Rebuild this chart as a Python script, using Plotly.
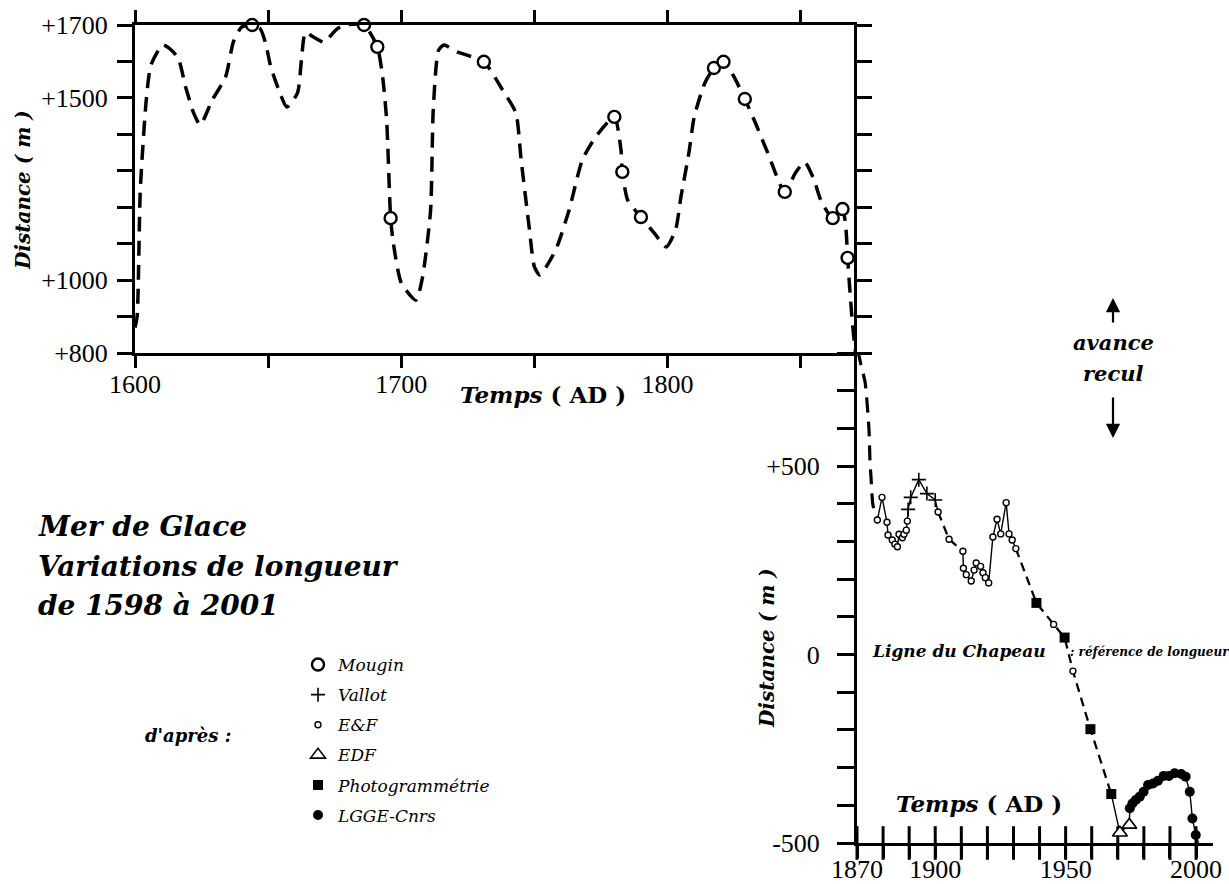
import plotly.graph_objects as go

W, H = 1229, 884

# ---------------- DATA ----------------
curve_years = [1600.0, 1600.8, 1602.0, 1604.3, 1606.0, 1610.5, 1616.0, 1619.0, 1622.0, 1624.5,
               1629.0, 1634.0, 1637.0, 1640.0, 1644.0, 1647.0, 1649.0, 1651.0, 1654.0, 1657.0,
               1661.0, 1662.5, 1664.0, 1667.0, 1671.0, 1673.0, 1676.0, 1679.0, 1686.0, 1691.0,
               1693.0, 1694.5, 1696.0, 1697.0, 1700.0, 1705.5, 1708.0, 1711.0, 1712.0, 1714.0,
               1716.0, 1721.0, 1731.0, 1738.0, 1743.0, 1745.0, 1748.0, 1750.0, 1752.0, 1758.0,
               1763.0, 1768.0, 1773.0, 1780.0, 1782.5, 1783.0, 1785.0, 1790.0, 1795.0, 1799.5,
               1803.0, 1805.0, 1808.0, 1810.0, 1814.0, 1817.4, 1821.0, 1825.0, 1829.0, 1833.0,
               1837.6, 1844.0, 1848.0, 1851.5, 1855.0, 1857.5, 1862.0, 1865.7, 1867.0, 1867.6,
               1869.2, 1870.6, 1871.8, 1873.1, 1874.6, 1875.0, 1875.4, 1876.1, 1877.8]
curve_values = [870, 900, 1250, 1500, 1590, 1645, 1612, 1530, 1459, 1426,
                1494, 1557, 1655, 1694, 1700, 1690, 1651, 1585, 1522, 1475,
                1513, 1604, 1680, 1667, 1653, 1667, 1690, 1700, 1700, 1640,
                1557, 1439, 1170, 1102, 992, 945, 1009, 1192, 1467, 1631,
                1645, 1626, 1599, 1522, 1459, 1330, 1146, 1036, 1014, 1083,
                1192, 1330, 1393, 1448, 1357, 1297, 1220, 1173, 1129, 1091,
                1138, 1228, 1349, 1448, 1541, 1582, 1599, 1557, 1497, 1431,
                1349, 1242, 1294, 1324, 1275, 1220, 1170, 1195, 1138, 1061,
                900, 800, 760, 723, 596, 508, 468, 397, 357]

mougin_years = [1644.0, 1686.0, 1691.0, 1696.0, 1731.0, 1780.0, 1783.0, 1790.0,
                1817.4, 1821.0, 1829.0, 1844.0, 1862.0, 1865.7, 1867.6]
mougin_values = [1700, 1700, 1640, 1170, 1599, 1448, 1297, 1173,
                 1582, 1599, 1497, 1242, 1170, 1195, 1061]

vallot_years = [1889.6, 1890.6, 1893.7, 1896.8, 1900.0]
vallot_values = [385, 417, 464, 427, 410]

ef_years = [1877.8, 1879.6, 1881.5, 1881.9, 1883.5, 1884.5, 1885.5, 1886.1, 1887.4, 1888.0,
            1888.9, 1889.3, 1901.1, 1905.3, 1910.6, 1910.8, 1911.9, 1913.8, 1914.9, 1915.7,
            1917.4, 1918.3, 1919.2, 1920.5, 1922.1, 1923.7, 1925.1, 1927.2, 1928.3, 1929.5,
            1930.9, 1945.4, 1952.8]
ef_values = [357, 417, 351, 317, 304, 293, 286, 319, 310, 319,
             330, 354, 378, 306, 274, 229, 212, 195, 224, 243,
             234, 217, 204, 190, 312, 359, 320, 403, 320, 304,
             281, 80, -44]

edf_years = [1970.8, 1974.4]
edf_values = [-473, -452]

photo_years = [1938.8, 1949.6, 1959.5, 1967.5]
photo_values = [137, 45, -198, -370]

lgge_years = [1974.6, 1975.6, 1976.9, 1978.4, 1979.9, 1981.6, 1983.5, 1985.4, 1987.6, 1989.6,
              1991.8, 1994.3, 1996.0, 1997.6, 1998.6, 1999.9, 2002.7]
lgge_values = [-408, -395, -386, -377, -364, -346, -342, -335, -322, -322,
               -315, -317, -324, -364, -435, -479, -536]

# tick labels
top_x_ticks = [1600, 1650, 1700, 1750, 1800, 1850]
top_x_labels = ["1600", "", "1700", "", "1800", ""]
top_y_ticks = [800, 900, 1000, 1100, 1200, 1300, 1400, 1500, 1600, 1700]
top_y_labels = ["+800", "", "+1000", "", "", "", "", "+1500", "", "+1700"]
top_right_ticks = [1000, 1500]
top_right_labels = ["+1000", "+1500"]
bot_x_ticks = [1870, 1880, 1890, 1900, 1910, 1920, 1930, 1940, 1950, 1960, 1970, 1980, 1990, 2000]
bot_x_labels = ["1870", "", "", "1900", "", "", "", "", "1950", "", "", "", "", "2000"]
bot_y_ticks = [-500, -400, -300, -200, -100, 0, 100, 200, 300, 400, 500, 600, 700, 800]
bot_y_labels = ["-500", "", "", "", "", "0", "", "", "", "", "+500", "", "", ""]

segments = [(1877.8, 1901.1, False), (1901.1, 1910.6, True), (1910.6, 1930.9, False),
            (1930.9, 1967.5, True), (1967.5, 2003.0, False)]

# ---------------- FIGURE ----------------
SCRIPT = "DejaVu Serif"
NUM = "Liberation Serif"
BOT_MIN, BOT_MAX = -500, 800

fig = go.Figure()

fig.add_trace(go.Scatter(x=curve_years, y=curve_values, mode="lines", xaxis="x", yaxis="y",
                         line=dict(color="black", width=3.5, dash="15px,9px", shape="spline", smoothing=0.6),
                         showlegend=False, hoverinfo="skip"))
k = curve_years.index(1867.6)
fig.add_trace(go.Scatter(x=curve_years[k:], y=curve_values[k:], mode="lines", xaxis="x2", yaxis="y2",
                         line=dict(color="black", width=3.2, dash="15px,9px", shape="spline", smoothing=0.6),
                         showlegend=False, hoverinfo="skip"))

all_pts = sorted(zip(ef_years + vallot_years + photo_years + edf_years + lgge_years,
                     ef_values + vallot_values + photo_values + edf_values + lgge_values),
                 key=lambda p: p[0])
for a, b, dashed in segments:
    sub = [p for p in all_pts if a <= p[0] <= b]
    fig.add_trace(go.Scatter(x=[p[0] for p in sub], y=[p[1] for p in sub], mode="lines",
                             xaxis="x2", yaxis="y2", showlegend=False, hoverinfo="skip",
                             line=dict(color="black", width=2.3 if dashed else 1.4,
                                       dash="9px,6px" if dashed else "solid")))

# crossing tick marks along the lower time axis (placed at the tick values, on the axis floor)
fig.add_trace(go.Scatter(x=bot_x_ticks, y=[BOT_MIN] * len(bot_x_ticks), mode="markers",
                         xaxis="x2", yaxis="y2", cliponaxis=False, showlegend=False,
                         hoverinfo="skip",
                         marker=dict(symbol="line-ns", size=24, color="black",
                                     line=dict(color="black", width=3))))

fig.add_trace(go.Scatter(x=mougin_years, y=mougin_values, mode="markers", name="Mougin",
                         xaxis="x", yaxis="y", cliponaxis=False, legendgroup="a",
                         marker=dict(symbol="circle", size=12, color="white",
                                     line=dict(color="black", width=2.4))))
fig.add_trace(go.Scatter(x=vallot_years, y=vallot_values, mode="markers", name="Vallot",
                         xaxis="x2", yaxis="y2", cliponaxis=False, legendgroup="b",
                         marker=dict(symbol="cross-thin", size=10, color="black",
                                     line=dict(color="black", width=1.6))))
fig.add_trace(go.Scatter(x=ef_years, y=ef_values, mode="markers", name="E&F",
                         xaxis="x2", yaxis="y2", cliponaxis=False, legendgroup="c",
                         marker=dict(symbol="circle", size=6, color="white",
                                     line=dict(color="black", width=1.4))))
fig.add_trace(go.Scatter(x=edf_years, y=edf_values, mode="markers", name="EDF",
                         xaxis="x2", yaxis="y2", cliponaxis=False, legendgroup="d",
                         marker=dict(symbol="triangle-up", size=13, color="white",
                                     line=dict(color="black", width=1.6))))
fig.add_trace(go.Scatter(x=photo_years, y=photo_values, mode="markers", name="Photogrammétrie",
                         xaxis="x2", yaxis="y2", cliponaxis=False, legendgroup="e",
                         marker=dict(symbol="square", size=10, color="black")))
fig.add_trace(go.Scatter(x=lgge_years, y=lgge_values, mode="markers", name="LGGE-Cnrs",
                         xaxis="x2", yaxis="y2", cliponaxis=False, legendgroup="f",
                         marker=dict(symbol="circle", size=10, color="black")))

common = dict(showgrid=False, zeroline=False, showline=True, linecolor="black", linewidth=3,
              tickcolor="black", tickwidth=3, automargin=False, layer="above traces",
              tickfont=dict(family=NUM, size=26, color="black"))

top_xdom = [135 / W, 854 / W]
top_ydom = [1 - 353 / H, 1 - 25 / H]
bot_xdom = [857 / W, 1213 / W]
bot_ydom = [1 - 843 / H, 1 - 353 / H]
bot_xmax = 1870 + (1213 - 857) / 2.608

fig.update_layout(
    width=W, height=H, margin=dict(l=0, r=0, t=0, b=0, autoexpand=False),
    paper_bgcolor="white", plot_bgcolor="rgba(0,0,0,0)",
    xaxis=dict(domain=top_xdom, range=[1600, 1870], anchor="y", ticks="outside", ticklen=12,
               mirror="ticks", tickvals=top_x_ticks, ticktext=top_x_labels,
               ticklabelstandoff=-6, **common),
    xaxis3=dict(overlaying="x", anchor="y", range=[1600, 1870], ticks="inside", ticklen=12,
                mirror="ticks", tickvals=top_x_ticks, showticklabels=False, **common),
    yaxis=dict(domain=top_ydom, range=[800, 1700], anchor="x", ticks="outside", ticklen=15,
               mirror="ticks", tickvals=top_y_ticks, ticktext=top_y_labels,
               ticklabelstandoff=4, **common),
    yaxis3=dict(overlaying="y", anchor="x", range=[800, 1700], ticks="inside", ticklen=17,
                mirror="ticks", tickvals=top_y_ticks, showticklabels=False, **common),
    yaxis4=dict(overlaying="y", anchor="x", side="right", range=[800, 1700], showgrid=False,
                zeroline=False, showline=False, ticks="", tickvals=top_right_ticks,
                ticktext=top_right_labels, ticklabelstandoff=20, automargin=False,
                tickfont=dict(family=NUM, size=26, color="black")),
    xaxis2=dict(domain=bot_xdom, range=[1870, bot_xmax], anchor="y2",
                ticks="outside", ticklen=12, tickvals=bot_x_ticks, ticktext=bot_x_labels,
                ticklabelstandoff=-11, **common),
    yaxis2=dict(domain=bot_ydom, range=[BOT_MIN, BOT_MAX], anchor="x2", ticks="outside", ticklen=17,
                tickvals=bot_y_ticks, ticktext=bot_y_labels, ticklabelstandoff=12, **common),
    yaxis5=dict(overlaying="y2", anchor="x2", range=[BOT_MIN, BOT_MAX], ticks="inside", ticklen=17,
                tickvals=bot_y_ticks, showticklabels=False, **common),
    showlegend=True,
    legend=dict(x=298 / W, y=1 - 647 / H, xanchor="left", yanchor="top",
                bgcolor="rgba(0,0,0,0)", borderwidth=0, tracegroupgap=5,
                font=dict(family=SCRIPT, size=17, color="black", style="italic")),
)


def note(text, x, y, size, xanchor="center", angle=0, yanchor="middle"):
    fig.add_annotation(text=text, x=x / W, y=1 - y / H, xref="paper", yref="paper",
                       showarrow=False, xanchor=xanchor, yanchor=yanchor, textangle=angle,
                       font=dict(family=SCRIPT, size=size, color="black"))


note("<b><i>Distance ( m )</i></b>", 23, 190, 20, angle=-90)
note("<b><i>Temps</i> ( AD )</b>", 543, 394, 23)
note("<b><i>Distance ( m )</i></b>", 767, 648, 20, angle=-90)
note("<b><i>Temps</i> ( AD )</b>", 979, 803, 23)
note("<b><i>Mer de Glace</i></b>", 36, 526, 28, xanchor="left")
note("<b><i>Variations de longueur</i></b>", 36, 566, 28, xanchor="left")
note("<b><i>de 1598 à 2001</i></b>", 36, 605, 28, xanchor="left")
note("<b><i>d'après :</i></b>", 188, 735, 18)
note("<b><i>avance</i></b>", 1113, 343, 21)
note("<b><i>recul</i></b>", 1113, 373, 21)
note("<b><i>Ligne du Chapeau</i></b>", 870, 651, 17, xanchor="left")
note("<b><i>: référence de longueur</i></b>", 1068, 652, 12, xanchor="left")

fig.add_annotation(x=1113 / W, y=1 - 298 / H, xref="paper", yref="paper", ax=0, ay=26,
                   text="", showarrow=True, arrowhead=2, arrowsize=1.3, arrowwidth=2.2,
                   arrowcolor="black")
fig.add_annotation(x=1113 / W, y=1 - 438 / H, xref="paper", yref="paper", ax=0, ay=-42,
                   text="", showarrow=True, arrowhead=2, arrowsize=1.3, arrowwidth=2.2,
                   arrowcolor="black")

fig.write_html("out.html", config={"displayModeBar": False},
               post_script="document.body.style.margin='0';")
